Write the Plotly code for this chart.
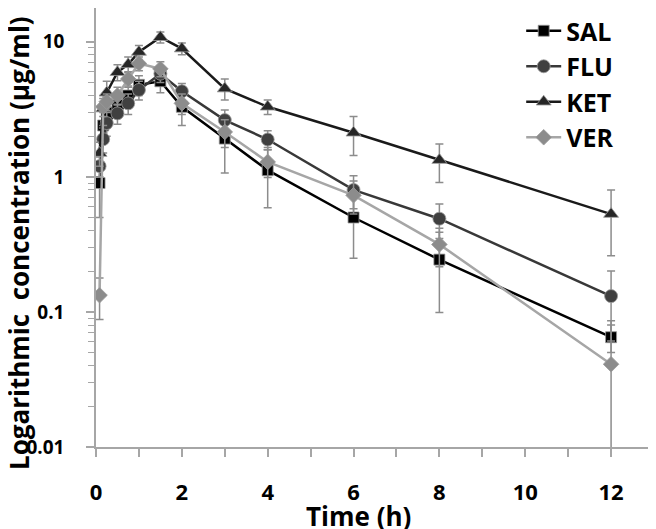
import plotly.graph_objects as go

times = [0.083, 0.167, 0.25, 0.5, 0.75, 1, 1.5, 2, 3, 4, 6, 8, 12]

sal = [0.9, 2.4, 3.0, 3.4, 4.0, 4.8, 5.1, 3.3, 1.92, 1.12, 0.5, 0.244, 0.065]
sal_err = [0.4, 0.6, 0.7, 0.6, 0.7, 0.8, 0.9, 0.9, 0.85, 0.53, 0.25, 0.145, 0.015]

flu = [1.2, 1.9, 2.5, 2.95, 3.5, 4.4, 5.8, 4.3, 2.63, 1.89, 0.8, 0.49, 0.131]
flu_err = [0.2, 0.4, 0.5, 0.5, 0.6, 0.7, 0.8, 0.6, 0.5, 0.3, 0.22, 0.14, 0.07]

ket = [1.5, 3.2, 4.2, 5.95, 6.8, 8.4, 10.8, 8.9, 4.5, 3.3, 2.12, 1.33, 0.53]
ket_err = [0.3, 0.8, 0.9, 0.8, 0.9, 1.0, 1.0, 0.9, 0.8, 0.4, 0.68, 0.42, 0.27]

ver = [0.133, 3.3, 3.6, 4.0, 5.3, 6.9, 6.3, 3.5, 2.15, 1.29, 0.73, 0.316, 0.041]
ver_err = [0.045, 0.5, 0.5, 0.6, 0.7, 0.8, 0.8, 0.6, 0.5, 0.3, 0.2, 0.1, 0.045]

series = [
    ("SAL", sal, sal_err, "#000000", "#000000", "square", 11),
    ("FLU", flu, flu_err, "#383838", "#404040", "circle", 13),
    ("KET", ket, ket_err, "#1a1a1a", "#262626", "triangle-up", 13),
    ("VER", ver, ver_err, "#a6a6a6", "#8c8c8c", "diamond", 12),
]

fig = go.Figure()
for name, vals, errs, lcol, mcol, sym, size in series:
    fig.add_trace(go.Scatter(
        x=times, y=vals, name=name, mode="lines+markers",
        line=dict(color=lcol, width=2.5),
        marker=dict(symbol=sym, size=size, color=mcol,
                    line=dict(color="#9a9a9a", width=0.8)),
        error_y=dict(type="data", array=errs, visible=True,
                     color="#8c8c8c", thickness=1.5, width=4),
    ))

font_family = "'Open Sans', Lato, sans-serif"

# page has an 8px body margin: plot area spans page x 96..654, y 8..447
L, R, T, B = 88, 10, 0, 90
PW = 656 - L - R
PH = 529 - T - B


def px(xp):
    return (xp - 8 - L) / PW


def py(yp):
    return (PH - (yp - 8 - T)) / PH


fig.update_layout(
    width=656, height=529,
    margin=dict(l=L, r=R, t=T, b=B),
    plot_bgcolor="white", paper_bgcolor="white",
    font=dict(family=font_family, color="#000000"),
    showlegend=True,
    legend=dict(
        x=0.762, y=1.0, xanchor="left", yanchor="top",
        bgcolor="rgba(0,0,0,0)", borderwidth=0,
        font=dict(size=25, family=font_family, color="#000000", weight="bold"),
        itemsizing="trace", itemwidth=35,
    ),
    xaxis=dict(
        range=[0, 13], dtick=2, tick0=0, automargin=False,
        showgrid=False, zeroline=False,
        showline=True, linecolor="#a6a6a6", linewidth=1.5,
        ticks="outside", ticklen=8, tickcolor="#a6a6a6", tickwidth=1.5,
        minor=dict(dtick=1, ticks="outside", ticklen=8, tickcolor="#a6a6a6", tickwidth=1.5),
        tickfont=dict(size=22, family=font_family, weight="bold"),
        ticklabelstandoff=17,
    ),
    yaxis=dict(
        type="log", range=[-2, 1.25], automargin=False,
        tickvals=[0.01, 0.1, 1, 10], ticktext=["0.01", "0.1", "1", "10"],
        showgrid=False, zeroline=False,
        showline=True, linecolor="#a6a6a6", linewidth=1.5,
        ticks="outside", ticklen=8, tickcolor="#a6a6a6", tickwidth=1.5,
        minor=dict(dtick="D1", ticks="outside", ticklen=6, tickcolor="#a6a6a6", tickwidth=1.2),
        tickfont=dict(size=19, family=font_family, weight="bold"),
        ticklabelstandoff=18,
    ),
    annotations=[
        dict(text="Time (h)", xref="paper", yref="paper", x=px(358), y=py(516),
             xanchor="center", yanchor="middle", showarrow=False,
             font=dict(size=26, family=font_family, weight="bold")),
        dict(text="Logarithmic\u00a0 concentration (µg/ml)", xref="paper", yref="paper",
             x=px(19), y=py(243), textangle=-90,
             xanchor="center", yanchor="middle", showarrow=False,
             font=dict(size=26, family=font_family, weight="bold")),
    ],
)

fig.write_html("out.html")
